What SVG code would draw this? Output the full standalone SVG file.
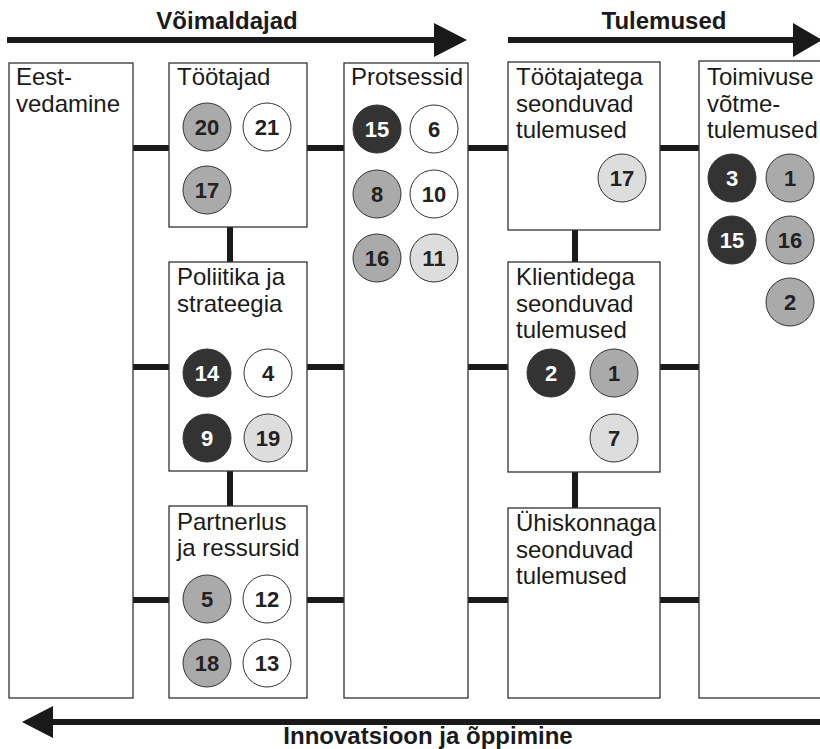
<svg xmlns="http://www.w3.org/2000/svg" width="820" height="749" viewBox="0 0 820 749">
<style>
.box{fill:#fff;stroke:#333;stroke-width:1.3}
.lbl{font-family:"Liberation Sans",Arial,sans-serif;font-size:24px;fill:#1a1a1a}
.hdr{font-family:"Liberation Sans",Arial,sans-serif;font-size:24px;font-weight:bold;fill:#1a1a1a}
.c{stroke:#333;stroke-width:1}
.d{fill:#333}.m{fill:#aaa}.l{fill:#ddd}.w{fill:#fff}
.n{font-family:"Liberation Sans",Arial,sans-serif;font-size:22px;font-weight:bold;text-anchor:middle;fill:#222}
.nw{fill:#fff}
.con{stroke:#1a1a1a;stroke-width:6;fill:none}
</style>
<rect width="820" height="749" fill="#fff"/>
<g id="arrows">
<line x1="7" y1="40" x2="440" y2="40" class="con" stroke-width="7"/>
<polygon points="434,23 467,40 434,57" fill="#1a1a1a"/>
<line x1="508" y1="40" x2="798" y2="40" class="con" stroke-width="7"/>
<polygon points="793,23 822,40 793,57" fill="#1a1a1a"/>
<line x1="820" y1="722" x2="48" y2="722" class="con" stroke-width="7"/>
<polygon points="53,706 22,722 53,738" fill="#1a1a1a"/>
<text class="hdr" x="227" y="29" text-anchor="middle">Võimaldajad</text>
<text class="hdr" x="664" y="29" text-anchor="middle">Tulemused</text>
<text class="hdr" x="428" y="744" text-anchor="middle">Innovatsioon ja õppimine</text>
</g>
<g id="connectors">
<line class="con" x1="133" y1="148" x2="169" y2="148"/>
<line class="con" x1="133" y1="367" x2="169" y2="367"/>
<line class="con" x1="133" y1="600" x2="169" y2="600"/>
<line class="con" x1="307" y1="148" x2="344" y2="148"/>
<line class="con" x1="307" y1="367" x2="344" y2="367"/>
<line class="con" x1="307" y1="600" x2="344" y2="600"/>
<line class="con" x1="230" y1="227" x2="230" y2="262"/>
<line class="con" x1="230" y1="471" x2="230" y2="506"/>
<line class="con" x1="468" y1="148" x2="508" y2="148"/>
<line class="con" x1="468" y1="367" x2="508" y2="367"/>
<line class="con" x1="468" y1="600" x2="508" y2="600"/>
<line class="con" x1="575" y1="230" x2="575" y2="262"/>
<line class="con" x1="575" y1="472" x2="575" y2="508"/>
<line class="con" x1="660" y1="148" x2="699" y2="148"/>
<line class="con" x1="660" y1="367" x2="699" y2="367"/>
<line class="con" x1="660" y1="600" x2="699" y2="600"/>
</g>
<g id="eestvedamine">
<rect class="box" x="9" y="63" width="124" height="635"/>
<text class="lbl" x="16" y="85">Eest-</text>
<text class="lbl" x="16" y="112">vedamine</text>
</g>
<g id="tootajad">
<rect class="box" x="169" y="63" width="138" height="164"/>
<text class="lbl" x="177" y="85">Töötajad</text>
<circle class="c m" cx="207" cy="127" r="24"/><text class="n" x="207" y="135">20</text>
<circle class="c w" cx="267" cy="127" r="24"/><text class="n" x="267" y="135">21</text>
<circle class="c m" cx="207" cy="190" r="24"/><text class="n" x="207" y="198">17</text>
</g>
<g id="poliitika">
<rect class="box" x="169" y="262" width="138" height="209"/>
<text class="lbl" x="177" y="285">Poliitika ja</text>
<text class="lbl" x="177" y="312">strateegia</text>
<circle class="c d" cx="207" cy="373" r="24"/><text class="n nw" x="207" y="381">14</text>
<circle class="c w" cx="268" cy="373" r="24"/><text class="n" x="268" y="381">4</text>
<circle class="c d" cx="207" cy="438" r="24"/><text class="n nw" x="207" y="446">9</text>
<circle class="c l" cx="268" cy="438" r="24"/><text class="n" x="268" y="446">19</text>
</g>
<g id="partnerlus">
<rect class="box" x="169" y="506" width="138" height="192"/>
<text class="lbl" x="177" y="530">Partnerlus</text>
<text class="lbl" x="177" y="556">ja ressursid</text>
<circle class="c m" cx="207" cy="599" r="24"/><text class="n" x="207" y="607">5</text>
<circle class="c w" cx="267" cy="599" r="24"/><text class="n" x="267" y="607">12</text>
<circle class="c m" cx="207" cy="663" r="24"/><text class="n" x="207" y="671">18</text>
<circle class="c w" cx="267" cy="663" r="24"/><text class="n" x="267" y="671">13</text>
</g>
<g id="protsessid">
<rect class="box" x="344" y="63" width="124" height="635"/>
<text class="lbl" x="351" y="85">Protsessid</text>
<circle class="c d" cx="377" cy="129" r="24"/><text class="n nw" x="377" y="137">15</text>
<circle class="c w" cx="434" cy="129" r="24"/><text class="n" x="434" y="137">6</text>
<circle class="c m" cx="377" cy="194" r="24"/><text class="n" x="377" y="202">8</text>
<circle class="c w" cx="434" cy="194" r="24"/><text class="n" x="434" y="202">10</text>
<circle class="c m" cx="377" cy="258" r="24"/><text class="n" x="377" y="266">16</text>
<circle class="c l" cx="434" cy="258" r="24"/><text class="n" x="434" y="266">11</text>
</g>
<g id="tootajatega">
<rect class="box" x="508" y="62" width="152" height="168"/>
<text class="lbl" x="516" y="85">Töötajatega</text>
<text class="lbl" x="516" y="112">seonduvad</text>
<text class="lbl" x="516" y="138">tulemused</text>
<circle class="c l" cx="622" cy="178" r="24"/><text class="n" x="622" y="186">17</text>
</g>
<g id="klientidega">
<rect class="box" x="508" y="262" width="152" height="210"/>
<text class="lbl" x="516" y="285">Klientidega</text>
<text class="lbl" x="516" y="312">seonduvad</text>
<text class="lbl" x="516" y="338">tulemused</text>
<circle class="c d" cx="551" cy="373" r="24"/><text class="n nw" x="551" y="381">2</text>
<circle class="c m" cx="614" cy="373" r="24"/><text class="n" x="614" y="381">1</text>
<circle class="c l" cx="614" cy="438" r="24"/><text class="n" x="614" y="446">7</text>
</g>
<g id="uhiskonnaga">
<rect class="box" x="508" y="508" width="152" height="190"/>
<text class="lbl" x="516" y="531">Ühiskonnaga</text>
<text class="lbl" x="516" y="558">seonduvad</text>
<text class="lbl" x="516" y="584">tulemused</text>
</g>
<g id="toimivuse">
<rect class="box" x="699" y="61" width="140" height="637"/>
<text class="lbl" x="707" y="85">Toimivuse</text>
<text class="lbl" x="707" y="112">võtme-</text>
<text class="lbl" x="707" y="138">tulemused</text>
<circle class="c d" cx="732" cy="178" r="24"/><text class="n nw" x="732" y="186">3</text>
<circle class="c m" cx="790" cy="178" r="24"/><text class="n" x="790" y="186">1</text>
<circle class="c d" cx="732" cy="240" r="24"/><text class="n nw" x="732" y="248">15</text>
<circle class="c m" cx="790" cy="240" r="24"/><text class="n" x="790" y="248">16</text>
<circle class="c m" cx="790" cy="302" r="24"/><text class="n" x="790" y="310">2</text>
</g>
</svg>
